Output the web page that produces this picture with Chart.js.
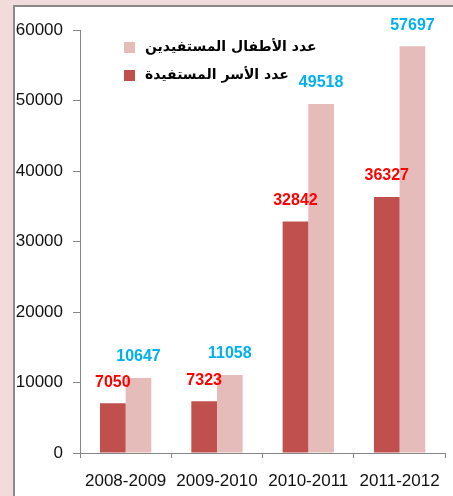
<!DOCTYPE html>
<html><head><meta charset="utf-8">
<script src="https://cdn.jsdelivr.net/npm/chart.js@4/dist/chart.umd.min.js"></script>
<style>
html,body{margin:0;padding:0;background:#f2dcdb;width:453px;height:496px;overflow:hidden}
#panel{position:absolute;left:13px;top:5px;width:460px;height:500px;background:#fff;border-top:2px solid #8a8a8a;border-left:2px solid #8a8a8a}
#c{position:absolute;left:0;top:0}
</style></head><body>
<div id="panel"></div>
<canvas id="c" width="453" height="496"></canvas>
<script>
const categories = ['2008-2009', '2009-2010', '2010-2011', '2011-2012'];
const familiesLabel = 'عدد الأسر المستفيدة';
const childrenLabel = 'عدد الأطفال المستفيدين';
const families = [7050, 7323, 32842, 36327];
const children = [10647, 11058, 49518, 57697];
const yMin = 0, yMax = 60000, yStep = 10000;

const valueLabelColors = ['#ff0000', '#00b0f0'];

const valueLabels = {
  id: 'valueLabels',
  afterDatasetsDraw(chart) {
    const ctx = chart.ctx;
    ctx.save();
    ctx.font = 'bold 16px "Liberation Sans", Arial, sans-serif';
    ctx.textAlign = 'center';
    ctx.textBaseline = 'middle';
    chart.data.datasets.forEach((ds, i) => {
      const meta = chart.getDatasetMeta(i);
      ctx.fillStyle = valueLabelColors[i];
      meta.data.forEach((bar, j) => {
        ctx.fillText(String(ds.data[j]), bar.x, bar.y - 21);
      });
    });
    ctx.restore();
  }
};

const insideLegend = {
  id: 'insideLegend',
  afterDraw(chart) {
    const ctx = chart.ctx;
    const a = chart.chartArea;
    ctx.save();
    ctx.font = 'bold 14px "DejaVu Sans", sans-serif';
    ctx.textBaseline = 'middle';
    ctx.textAlign = 'left';
    const items = chart.data.datasets.slice().reverse();
    items.forEach((ds, k) => {
      const bx = a.left + 44, by = a.top + 12 + k * 28;
      ctx.fillStyle = ds.backgroundColor;
      ctx.fillRect(bx, by, 11, 11);
      ctx.fillStyle = '#000';
      ctx.fillText(ds.label, bx + 21, by + 5.5);
    });
    ctx.restore();
  }
};

new Chart(document.getElementById('c'), {
  type: 'bar',
  data: {
    labels: categories,
    datasets: [
      { label: familiesLabel, data: families, backgroundColor: '#c0504d', borderWidth: 0 },
      { label: childrenLabel, data: children, backgroundColor: '#e6bcbb', borderWidth: 0 }
    ]
  },
  options: {
    responsive: false,
    animation: false,
    devicePixelRatio: 1,
    datasets: { bar: { categoryPercentage: 0.562, barPercentage: 1 } },
    layout: { padding: { top: 30, right: 3, bottom: 0, left: 0 } },
    plugins: { legend: { display: false }, tooltip: { enabled: false } },
    scales: {
      x: {
        grid: { offset: true, drawOnChartArea: false, drawTicks: true, tickLength: 5, color: '#868686' },
        border: { display: true, color: '#868686', width: 1 },
        ticks: { color: '#111', padding: 13, font: { family: '"Liberation Sans", Arial, sans-serif', size: 17 } },
        afterFit(s) { s.height = 43; }
      },
      y: {
        min: yMin, max: yMax,
        grid: { drawOnChartArea: false, drawTicks: true, tickLength: 7, color: '#868686' },
        border: { display: true, color: '#868686', width: 1 },
        ticks: { stepSize: yStep, color: '#111', padding: 10, callback: v => String(v),
                 font: { family: '"Liberation Sans", Arial, sans-serif', size: 17 } },
        afterFit(s) { s.width = 80; }
      }
    }
  },
  plugins: [valueLabels, insideLegend]
});
</script>
</body></html>
